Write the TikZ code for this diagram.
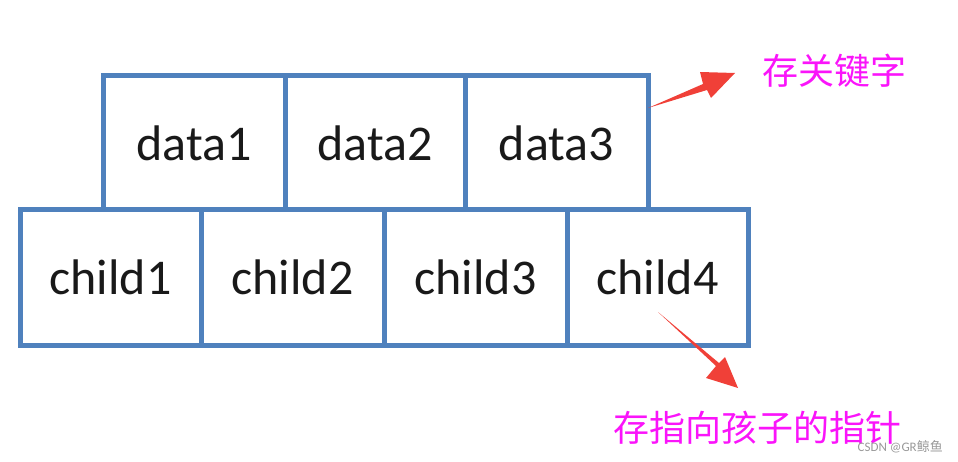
\documentclass[tikz,border=0pt]{standalone}
\usepackage{fontspec}
\setmainfont{Carlito}
\newfontfamily\cjk{Noto Sans CJK SC}
\definecolor{boxblue}{RGB}{79,129,189}
\definecolor{arrred}{RGB}{240,64,56}
\definecolor{labmag}{RGB}{250,20,250}
\definecolor{txtdark}{RGB}{25,25,25}
\begin{document}
\begin{tikzpicture}[x=1pt,y=-1pt,
  cell/.style={draw=boxblue,line width=5pt,rectangle,inner sep=0pt,outer sep=0pt,
    text=txtdark,font=\fontsize{50}{60}\selectfont},
  lab/.style={text=labmag,inner sep=0pt,font=\cjk\fontsize{36}{40}\selectfont},
  redarrow/.style={fill=arrred,draw=none}]
\useasboundingbox (0,0) rectangle (958,462);
% top row
\node[cell,minimum width=182pt,minimum height=134pt] (d1) at (194,143) {data1};
\node[cell,minimum width=180pt,minimum height=134pt] (d2) at (375,143) {data2};
\node[cell,minimum width=183pt,minimum height=134pt] (d3) at (556.5,143) {data3};
% bottom row
\node[cell,minimum width=181pt,minimum height=135pt] (c1) at (110.5,277.5) {child1};
\node[cell,minimum width=183pt,minimum height=135pt] (c2) at (292.5,277.5) {child2};
\node[cell,minimum width=183pt,minimum height=135pt] (c3) at (475.5,277.5) {child3};
\node[cell,minimum width=181pt,minimum height=135pt] (c4) at (657.5,277.5) {child4};
% labels
\node[lab] (k) at (834,71) {存关键字};
\node[lab,anchor=west] (p) at (613,428) {存指向孩子的指针};
\node[text=black!40,inner sep=0pt,anchor=east,font=\fontsize{13}{15}\selectfont] (w) at (943,447) {CSDN @GR{\cjk 鲸鱼}};
% arrows
\coordinate (a1) at (648,108);
\coordinate (a1t) at (735,73);
\fill[redarrow] (a1) -- (703,84) -- (700,72) -- (a1t) -- (711,98) -- (707,90) -- cycle;
\coordinate (a2) at (658,312);
\coordinate (a2t) at (738,388);
\fill[redarrow] (a2) -- (716,366) -- (706,378) -- (a2t) -- (725,357) -- (719,363) -- cycle;
\end{tikzpicture}
\end{document}
